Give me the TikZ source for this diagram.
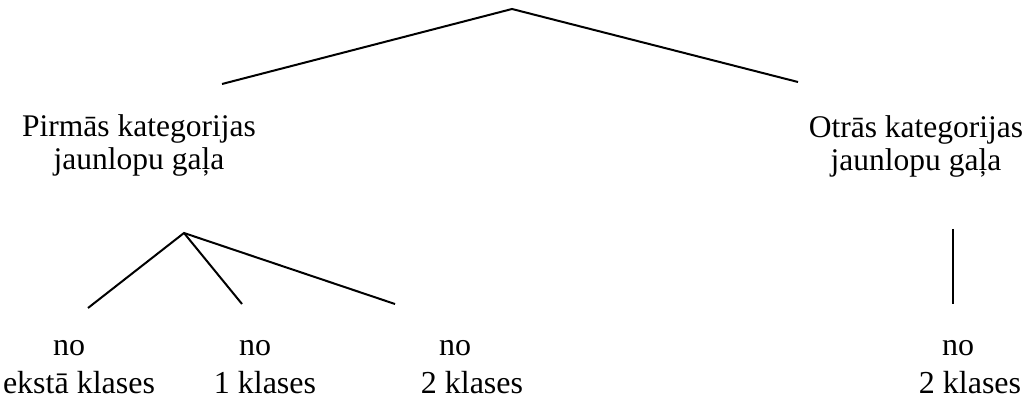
\documentclass[tikz,border=0pt]{standalone}
\usepackage{fontspec}
\setmainfont{Liberation Serif}
\begin{document}
\begin{tikzpicture}[x=1pt,y=-1pt,
  toplbl/.style={align=center,inner sep=0pt,font=\fontsize{31.5}{33}\selectfont},
  botlbl/.style={align=center,inner sep=0pt,font=\fontsize{32}{38}\selectfont},
  conn/.style={line width=2pt}]
\useasboundingbox (0,0) rectangle (1027,403);
% coordinates
\coordinate (top) at (512,9);
\coordinate (tl) at (222,84);
\coordinate (tr) at (798,82);
\coordinate (sl) at (184,233);
\coordinate (s1) at (88,308);
\coordinate (s2) at (242,304);
\coordinate (s3) at (395,304);
\coordinate (rv1) at (953,229);
\coordinate (rv2) at (953,304);
% labels
\node[toplbl] (first) at (139,145) {Pirmās kategorijas\\jaunlopu gaļa};
\node[toplbl] (second) at (916,146) {Otrās kategorijas\\jaunlopu gaļa};
\node[botlbl] (b1) at (79,367) {no\hspace*{20pt}\\ekstā klases};
\node[botlbl] (b2) at (265,367) {no\hspace*{20pt}\\1 klases};
\node[botlbl] (b3) at (472,367) {no\hspace*{34pt}\\2 klases};
\node[botlbl] (b4) at (970,367) {no\hspace*{24pt}\\2 klases};
% connectors
\draw[conn] (tl) -- (top) -- (tr);
\draw[conn] (s1) -- (sl) -- (s3);
\draw[conn] (sl) -- (s2);
\draw[conn] (rv1) -- (rv2);
\end{tikzpicture}
\end{document}
